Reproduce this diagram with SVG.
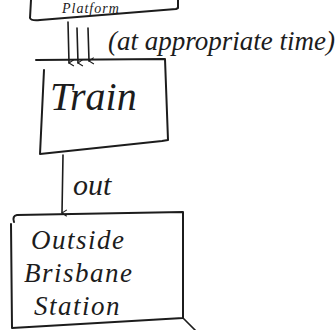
<svg xmlns="http://www.w3.org/2000/svg" width="336" height="330" viewBox="0 0 336 330">
<style>
.box{fill:none;stroke:#1c1c1c;stroke-width:2;stroke-linecap:round;stroke-linejoin:round}
.ln{fill:none;stroke:#1c1c1c;stroke-width:1.6;stroke-linecap:round}
.t{font-family:"Liberation Serif",serif;font-style:italic;fill:#1c1c1c}
.o{font-size:27px;letter-spacing:1.5px}
</style>
<defs>
<marker id="ah" viewBox="0 0 10 10" refX="5" refY="9" markerWidth="8" markerHeight="8" orient="auto-start-reverse" markerUnits="userSpaceOnUse">
<path d="M1,3 L5,9 L9,3" fill="none" stroke="#1c1c1c" stroke-width="1.4"/>
</marker>
</defs>
<rect width="336" height="330" fill="#ffffff"/>
<g id="platform">
<path class="box" d="M31,0 L30,18 Q31,21 40,20 L176,9 L178,8 L178,0"/>
<text class="t" x="62" y="13" font-size="14" letter-spacing="1">Platform</text>
</g>
<g id="train">
<path class="box" d="M36,60 L165,59 L168,140 L162,141 L40,154 L44,70"/>
<text class="t" x="50" y="110" font-size="40">Train</text>
</g>
<g id="outside">
<path class="box" d="M14,222 Q12,216 17,215 L183,212 L183,318 L12,328 L11,224"/>
<text class="t o" x="31" y="249">Outside</text>
<text class="t o" x="24" y="282">Brisbane</text>
<text class="t o" x="34" y="315">Station</text>
</g>
<g id="connectors">
<line class="ln" x1="68" y1="22" x2="69" y2="63" marker-end="url(#ah)"/>
<line class="ln" x1="77" y1="28" x2="78" y2="63" marker-end="url(#ah)"/>
<line class="ln" x1="88" y1="28" x2="89" y2="61" marker-end="url(#ah)"/>
<text class="t" x="108" y="50" font-size="27">(at appropriate time)</text>
<line class="ln" x1="63" y1="155" x2="62" y2="213" marker-end="url(#ah)"/>
<text class="t" x="73" y="195" font-size="30">out</text>
<line class="ln" x1="183" y1="318" x2="196" y2="331"/>
</g>
</svg>
